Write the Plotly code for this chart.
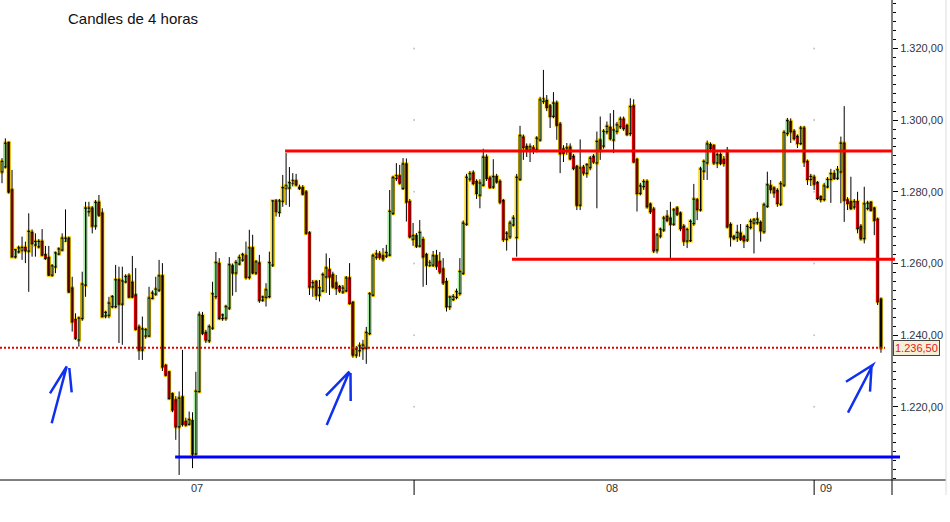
import plotly.graph_objects as go

# ---------------- data ----------------
title_text = "Candles de 4 horas"

opens = [
    1285.6, 1287.0, 1293.7, 1280.5, 1261.9, 1263.3, 1263.8, 1264.4, 1263.5, 1268.6,
    1265.2, 1264.7, 1266.1, 1262.4, 1261.6, 1256.8, 1259.1, 1262.7, 1263.8, 1266.4,
    1267.0, 1253.1, 1244.3, 1238.7, 1244.7, 1254.0, 1274.5, 1275.4, 1270.5, 1277.0,
    1274.0, 1245.4, 1245.6, 1248.0, 1248.0, 1255.4, 1248.7, 1254.9, 1256.5, 1254.7,
    1251.2, 1242.2, 1235.9, 1239.8, 1239.8, 1250.3, 1251.5, 1252.6, 1256.5, 1231.5,
    1229.7, 1223.6, 1221.9, 1214.5, 1222.7, 1215.9, 1215.2, 1216.1, 1206.9, 1224.3,
    1245.4, 1240.7, 1238.5, 1242.0, 1250.8, 1259.9, 1244.7, 1244.8, 1247.6, 1259.3,
    1257.4, 1259.9, 1261.0, 1262.1, 1256.2, 1264.3, 1257.4, 1260.1, 1249.8, 1250.6,
    1250.8, 1259.6, 1277.4, 1274.3, 1277.4, 1281.1, 1281.1, 1282.5, 1283.0, 1281.2,
    1281.1, 1279.9, 1268.5, 1253.5, 1254.9, 1251.2, 1252.4, 1256.3, 1258.2, 1256.8,
    1254.5, 1253.5, 1252.1, 1252.4, 1255.9, 1249.1, 1234.5, 1235.7, 1236.3, 1236.4,
    1240.5, 1251.2, 1261.8, 1262.6, 1262.1, 1262.1, 1262.4, 1274.0, 1283.8, 1284.4,
    1281.0, 1287.7, 1277.2, 1266.8, 1267.7, 1264.9, 1266.6, 1262.4, 1259.6, 1259.6,
    1262.1, 1260.5, 1258.4, 1254.9, 1248.0, 1250.0, 1250.6, 1251.7, 1257.3, 1271.0,
    1283.6, 1285.2, 1282.8, 1279.1, 1281.9, 1289.6, 1283.8, 1281.4, 1284.2, 1282.8,
    1277.5, 1266.8, 1267.5, 1270.8, 1267.3, 1283.5, 1295.2, 1292.6, 1291.7, 1292.2,
    1291.9, 1294.5, 1305.3, 1305.4, 1303.9, 1301.1, 1304.7, 1298.8, 1291.9, 1291.5,
    1292.4, 1289.8, 1287.0, 1276.3, 1286.8, 1285.2, 1286.8, 1289.8, 1288.1, 1294.4,
    1292.8, 1296.8, 1297.9, 1294.5, 1296.9, 1298.2, 1300.2, 1298.4, 1296.3, 1303.9,
    1288.9, 1279.6, 1281.5, 1282.8, 1276.5, 1275.1, 1263.8, 1267.7, 1269.4, 1273.1,
    1272.6, 1271.0, 1275.4, 1274.0, 1270.3, 1266.3, 1266.4, 1271.2, 1277.7, 1275.0,
    1285.8, 1288.1, 1293.1, 1292.8, 1288.1, 1290.3, 1289.0, 1291.4, 1270.8, 1267.5,
    1267.3, 1268.4, 1267.5, 1266.6, 1270.1, 1271.3, 1271.4, 1271.4, 1268.9, 1276.0,
    1281.6, 1281.0, 1280.3, 1276.6, 1281.9, 1296.3, 1299.5, 1296.8, 1295.4, 1293.5,
    1297.7, 1288.4, 1283.5, 1284.0, 1282.5, 1278.6, 1277.9, 1281.4, 1283.5, 1285.0,
    1283.8, 1285.6, 1293.5, 1277.7, 1277.2, 1275.8, 1277.2, 1270.3, 1267.0, 1275.4,
    1277.0, 1275.4, 1272.3, 1250.0,
]
highs = [
    1289.4, 1294.9, 1294.0, 1286.1, 1264.0, 1265.0, 1267.5, 1266.1, 1274.0, 1269.5,
    1268.4, 1266.8, 1269.6, 1264.9, 1264.9, 1259.8, 1263.3, 1264.5, 1268.4, 1275.1,
    1267.5, 1256.3, 1246.1, 1245.2, 1257.7, 1277.2, 1277.2, 1276.0, 1277.7, 1279.1,
    1275.4, 1246.8, 1250.7, 1251.2, 1259.6, 1259.1, 1259.1, 1257.0, 1257.3, 1262.1,
    1258.7, 1243.0, 1245.2, 1242.0, 1253.5, 1252.5, 1256.3, 1261.0, 1260.1, 1232.0,
    1230.0, 1224.0, 1223.0, 1224.3, 1235.9, 1217.0, 1218.7, 1218.5, 1229.8, 1246.6,
    1246.5, 1241.5, 1243.0, 1254.9, 1263.2, 1261.5, 1246.0, 1248.5, 1261.8, 1260.0,
    1261.0, 1262.5, 1263.0, 1266.1, 1269.4, 1268.0, 1261.0, 1262.4, 1251.0, 1254.5,
    1263.3, 1277.7, 1278.0, 1278.0, 1284.7, 1290.8, 1286.9, 1285.2, 1285.0, 1282.0,
    1281.9, 1280.5, 1269.0, 1255.4, 1255.4, 1255.4, 1257.5, 1262.8, 1261.5, 1257.7,
    1256.8, 1254.0, 1254.0, 1256.5, 1260.1, 1249.5, 1237.0, 1238.0, 1238.7, 1242.3,
    1252.0, 1262.8, 1263.8, 1263.5, 1264.3, 1265.2, 1280.5, 1284.5, 1288.0, 1287.5,
    1289.4, 1289.3, 1278.0, 1271.3, 1268.5, 1272.1, 1267.5, 1263.0, 1261.0, 1263.5,
    1263.8, 1263.2, 1261.5, 1256.0, 1251.0, 1251.5, 1253.0, 1261.5, 1272.0, 1285.0,
    1285.8, 1286.0, 1283.5, 1283.5, 1292.0, 1290.5, 1284.5, 1289.1, 1285.0, 1283.5,
    1278.0, 1269.0, 1272.0, 1273.5, 1285.0, 1298.4, 1296.0, 1293.5, 1293.5, 1293.0,
    1295.5, 1306.5, 1314.0, 1307.0, 1304.5, 1307.8, 1305.5, 1299.5, 1293.0, 1293.6,
    1293.5, 1290.5, 1287.5, 1294.6, 1287.5, 1288.0, 1290.0, 1290.5, 1296.8, 1301.0,
    1297.5, 1299.6, 1301.9, 1302.8, 1299.5, 1301.0, 1301.0, 1299.0, 1306.1, 1305.8,
    1289.5, 1282.5, 1283.5, 1283.5, 1277.0, 1275.8, 1268.5, 1270.0, 1273.3, 1274.9,
    1277.2, 1275.5, 1276.0, 1274.5, 1271.0, 1270.0, 1272.3, 1282.2, 1278.3, 1287.0,
    1289.0, 1294.3, 1293.8, 1293.3, 1291.0, 1291.0, 1290.0, 1292.5, 1271.5, 1268.0,
    1270.8, 1271.0, 1268.0, 1271.0, 1272.5, 1272.7, 1274.4, 1272.0, 1277.0, 1285.6,
    1283.3, 1281.5, 1281.0, 1283.0, 1297.2, 1300.6, 1300.5, 1297.5, 1296.0, 1298.4,
    1298.4, 1289.0, 1285.0, 1284.8, 1283.0, 1279.0, 1282.5, 1284.1, 1286.4, 1286.1,
    1287.2, 1295.4, 1303.9, 1278.5, 1284.2, 1278.0, 1280.0, 1271.0, 1281.4, 1277.5,
    1277.4, 1275.8, 1272.8, 1250.5,
]
lows = [
    1282.4, 1286.5, 1279.5, 1261.7, 1261.4, 1262.8, 1261.0, 1260.1, 1252.1, 1261.9,
    1261.9, 1264.2, 1262.0, 1261.0, 1256.5, 1256.3, 1257.3, 1262.3, 1263.4, 1266.0,
    1251.8, 1241.0, 1238.7, 1236.8, 1244.0, 1250.7, 1273.1, 1268.4, 1269.4, 1273.0,
    1245.0, 1244.7, 1244.7, 1247.5, 1247.5, 1237.8, 1237.3, 1254.5, 1250.3, 1250.3,
    1241.3, 1233.1, 1233.1, 1239.0, 1239.5, 1250.0, 1251.0, 1252.0, 1230.0, 1228.5,
    1222.0, 1218.5, 1210.8, 1201.0, 1214.5, 1214.5, 1214.8, 1202.9, 1206.5, 1224.0,
    1240.0, 1237.8, 1237.8, 1241.5, 1250.0, 1244.3, 1244.0, 1244.0, 1247.0, 1251.0,
    1252.0, 1259.5, 1260.5, 1255.5, 1255.5, 1257.0, 1256.8, 1249.0, 1249.3, 1248.0,
    1250.3, 1259.0, 1273.1, 1273.0, 1275.8, 1276.3, 1275.8, 1281.5, 1281.5, 1280.5,
    1279.0, 1268.0, 1251.2, 1250.7, 1249.8, 1249.4, 1252.0, 1251.8, 1251.2, 1253.0,
    1251.2, 1251.8, 1251.5, 1252.0, 1248.5, 1233.7, 1233.6, 1234.0, 1233.1, 1232.0,
    1240.0, 1250.8, 1261.0, 1261.0, 1260.5, 1261.5, 1262.0, 1273.5, 1283.0, 1282.0,
    1280.5, 1271.7, 1267.0, 1264.9, 1264.3, 1264.5, 1253.5, 1254.0, 1259.0, 1259.0,
    1258.2, 1257.0, 1254.0, 1246.6, 1247.0, 1249.5, 1250.0, 1251.0, 1256.8, 1270.5,
    1282.8, 1281.8, 1278.0, 1275.4, 1281.5, 1283.0, 1280.8, 1280.8, 1282.3, 1276.5,
    1266.0, 1263.6, 1266.8, 1270.3, 1261.9, 1283.0, 1288.9, 1289.7, 1288.3, 1290.5,
    1291.0, 1294.0, 1304.5, 1302.5, 1297.8, 1300.5, 1294.5, 1285.2, 1288.3, 1290.3,
    1288.8, 1286.0, 1274.9, 1274.9, 1284.5, 1283.9, 1286.0, 1287.8, 1275.4, 1288.9,
    1292.0, 1296.0, 1294.3, 1290.8, 1296.0, 1297.5, 1297.0, 1295.5, 1295.5, 1288.0,
    1274.5, 1279.0, 1280.5, 1275.3, 1273.8, 1262.9, 1262.8, 1267.0, 1268.8, 1271.5,
    1261.5, 1270.5, 1273.2, 1269.0, 1264.9, 1264.3, 1266.0, 1270.5, 1272.1, 1274.5,
    1283.3, 1283.3, 1291.0, 1287.5, 1286.6, 1287.4, 1287.0, 1269.8, 1264.7, 1266.5,
    1266.0, 1266.3, 1264.3, 1266.0, 1269.5, 1262.8, 1270.8, 1266.1, 1268.3, 1275.5,
    1279.5, 1278.3, 1275.8, 1276.0, 1281.3, 1295.5, 1293.6, 1294.3, 1292.2, 1293.0,
    1286.9, 1281.9, 1281.6, 1280.5, 1277.7, 1277.0, 1277.3, 1281.0, 1276.9, 1283.3,
    1283.3, 1276.8, 1271.6, 1274.9, 1274.9, 1275.0, 1268.4, 1266.4, 1265.6, 1274.8,
    1274.5, 1267.9, 1248.4, 1235.1,
]
closes = [
    1288.4, 1293.5, 1280.0, 1261.9, 1263.8, 1264.3, 1264.4, 1263.6, 1268.9, 1265.6,
    1266.1, 1266.1, 1262.4, 1261.5, 1256.8, 1259.3, 1262.9, 1264.0, 1267.0, 1267.0,
    1252.1, 1243.8, 1239.2, 1244.7, 1254.2, 1275.4, 1275.4, 1270.5, 1277.0, 1273.5,
    1245.2, 1246.3, 1248.9, 1250.7, 1255.4, 1248.7, 1255.1, 1256.3, 1250.7, 1250.7,
    1241.7, 1235.9, 1241.7, 1241.5, 1250.3, 1251.7, 1252.8, 1256.5, 1231.2, 1228.9,
    1222.4, 1219.2, 1214.5, 1222.4, 1215.2, 1215.0, 1216.4, 1206.9, 1224.3, 1245.6,
    1240.6, 1238.7, 1242.3, 1251.5, 1260.2, 1244.7, 1245.6, 1247.9, 1259.6, 1257.4,
    1260.2, 1261.6, 1262.4, 1256.2, 1264.3, 1257.4, 1260.4, 1249.8, 1250.6, 1252.6,
    1260.2, 1277.4, 1274.6, 1277.4, 1281.1, 1281.6, 1282.5, 1283.0, 1282.0, 1281.0,
    1279.4, 1268.5, 1253.5, 1254.6, 1251.2, 1253.2, 1256.8, 1258.7, 1256.3, 1253.5,
    1253.1, 1252.4, 1253.1, 1255.9, 1248.9, 1234.5, 1236.1, 1237.0, 1237.2, 1240.7,
    1251.5, 1262.1, 1262.6, 1261.8, 1261.3, 1263.0, 1274.5, 1283.9, 1284.4, 1282.5,
    1287.7, 1277.2, 1267.5, 1267.7, 1264.9, 1268.6, 1261.9, 1259.6, 1260.1, 1262.1,
    1259.3, 1257.7, 1254.7, 1248.0, 1250.6, 1250.7, 1252.1, 1257.7, 1271.2, 1284.0,
    1285.0, 1282.4, 1279.6, 1282.4, 1289.6, 1283.8, 1281.3, 1284.2, 1282.8, 1277.2,
    1266.8, 1268.4, 1271.2, 1272.6, 1284.0, 1295.6, 1292.4, 1291.7, 1292.5, 1291.7,
    1294.9, 1305.6, 1305.8, 1303.6, 1301.1, 1304.7, 1298.6, 1290.7, 1290.8, 1292.2,
    1289.3, 1286.6, 1276.3, 1286.6, 1285.3, 1287.5, 1289.3, 1288.4, 1294.0, 1291.5,
    1296.8, 1298.2, 1294.9, 1297.2, 1298.6, 1300.2, 1297.7, 1296.1, 1303.7, 1288.4,
    1279.6, 1281.6, 1282.8, 1275.9, 1274.5, 1263.6, 1267.9, 1269.5, 1272.6, 1272.1,
    1271.0, 1274.9, 1273.8, 1269.8, 1266.3, 1269.4, 1271.7, 1277.9, 1275.1, 1286.3,
    1288.4, 1293.3, 1292.1, 1288.1, 1290.3, 1288.0, 1288.0, 1270.3, 1267.5, 1267.0,
    1268.6, 1266.8, 1266.4, 1270.3, 1271.7, 1272.1, 1272.3, 1269.2, 1276.3, 1281.9,
    1280.7, 1279.8, 1276.8, 1282.2, 1296.5, 1299.8, 1296.8, 1294.9, 1293.6, 1297.7,
    1288.4, 1283.5, 1284.2, 1282.2, 1278.2, 1277.9, 1281.6, 1283.4, 1285.0, 1283.8,
    1286.1, 1293.5, 1277.7, 1276.8, 1275.4, 1277.2, 1269.8, 1267.0, 1276.6, 1276.8,
    1274.9, 1272.1, 1249.4, 1236.5,
]

month_labels = ["07", "08", "09"]
month_label_pos = [58.3, 182.5, 244.2]   # candle-index positions of the labels
month_bounds = [123.3, 243.0]            # candle-index positions of month changes

resistance_level, resistance_start = 1291.4, 84.7
support_level, support_start = 1261.2, 152.6
floor_level, floor_start = 1206.0, 51.8
last_price = 1236.5
last_price_text = "1.236,50"
y_ticks = [1220, 1240, 1260, 1280, 1300, 1320]

# ---------------- styling / geometry ----------------
X_RANGE = [-0.6, 266.3]
Y_RANGE = [1199.6, 1333.5]
PLOT_W, PLOT_H = 892, 480
FONT = "Liberation Sans, Arial, sans-serif"
GOLD = "#ffd200"
RED = "#f00000"
GREEN = "#a8eca0"
BLUE = "#1030f0"


def xp(i):
    return (i - X_RANGE[0]) / (X_RANGE[1] - X_RANGE[0])


def yp(p):
    return (p - Y_RANGE[0]) / (Y_RANGE[1] - Y_RANGE[0])


def px(x):
    return x / PLOT_W


def py(y):
    return 1 - y / PLOT_H


n = len(closes)
idx = list(range(n))

wick_x, wick_y = [], []
for i in idx:
    wick_x += [i, i, None]
    wick_y += [lows[i], highs[i], None]

body_base = [min(o, c) for o, c in zip(opens, closes)]
body_len = [abs(c - o) for o, c in zip(opens, closes)]
fills = [GREEN if c >= o else RED for o, c in zip(opens, closes)]
fills[-1] = "#111111"   # current (last) candle is drawn dark


def layer(pad_price, width, colors):
    return go.Bar(x=idx, y=[b + 2 * pad_price for b in body_len],
                  base=[b - pad_price for b in body_base], width=width,
                  marker=dict(color=colors, line=dict(width=0)), hoverinfo="skip")


fig = go.Figure()
fig.add_trace(go.Scatter(x=wick_x, y=wick_y, mode="lines",
                         line=dict(color="black", width=1), hoverinfo="skip"))
fig.add_trace(layer(0.55, 1.3, GOLD))          # yellow outer frame
fig.add_trace(layer(0.22, 0.85, "#1a1a1a"))    # thin dark inner frame
fig.add_trace(go.Bar(x=idx, y=[max(b - 0.24, 0) for b in body_len],
                     base=[b + 0.12 for b in body_base], width=0.58,
                     marker=dict(color=fills, line=dict(width=0)), hoverinfo="skip"))
# faint grid dots at month changes
fig.add_trace(go.Scatter(x=[b for b in month_bounds for _ in y_ticks],
                         y=[t for _ in month_bounds for t in y_ticks],
                         mode="markers", marker=dict(size=2, color="#c4c4c4"),
                         hoverinfo="skip"))

shapes = []
shapes.append(dict(type="line", xref="paper", yref="paper", x0=1, x1=1, y0=1, y1=py(495),
                   line=dict(color="black", width=1)))
shapes.append(dict(type="line", xref="paper", yref="paper", x0=0, x1=px(946), y0=0, y1=0,
                   line=dict(color="black", width=1)))
for b in month_bounds:
    shapes.append(dict(type="line", xref="paper", yref="paper", x0=xp(b), x1=xp(b),
                       y0=0, y1=py(495), line=dict(color="black", width=1)))
shapes.append(dict(type="line", xref="paper", yref="paper", x0=px(946), x1=px(946),
                   y0=1, y1=py(495), line=dict(color="#dcdcdc", width=1)))
shapes.append(dict(type="line", xref="paper", yref="paper", x0=xp(resistance_start), x1=px(892),
                   y0=yp(resistance_level), y1=yp(resistance_level), line=dict(color="#ff0000", width=3)))
shapes.append(dict(type="line", xref="paper", yref="paper", x0=xp(support_start), x1=px(895),
                   y0=yp(support_level), y1=yp(support_level), line=dict(color="#ff0000", width=3)))
shapes.append(dict(type="line", xref="paper", yref="paper", x0=xp(floor_start), x1=px(900),
                   y0=yp(floor_level), y1=yp(floor_level), line=dict(color="#0000ff", width=3)))
shapes.append(dict(type="line", xref="paper", yref="paper", x0=0, x1=px(885),
                   y0=yp(last_price), y1=yp(last_price),
                   line=dict(color="#e00000", width=2, dash="2px,2px")))

# hand-drawn arrows: (tail, tip, left barb end, right barb start, right barb end) in pixels
arrows = [
    [(51.7, 423.3), (66.7, 366.5), (50.0, 393.3), (69.3, 368.0), (71.7, 392.3)],
    [(326.7, 425.0), (349.3, 371.7), (326.0, 395.7), (350.5, 373.0), (350.7, 401.0)],
    [(848.0, 412.7), (872.7, 365.0), (846.0, 381.7), (871.5, 367.0), (870.0, 391.7)],
]
for tail, tip, left, rs, re_ in arrows:
    def P(pt):
        return f"{px(pt[0]):.5f},{py(pt[1]):.5f}"
    path = f"M{P(tail)} L{P(tip)} L{P(left)} M{P(rs)} L{P(re_)}"
    shapes.append(dict(type="path", xref="paper", yref="paper", path=path,
                       line=dict(color=BLUE, width=2.5)))

annotations = [
    dict(text=title_text, xref="paper", yref="paper", x=px(66), y=py(19),
         xanchor="left", yanchor="middle", showarrow=False,
         font=dict(family=FONT, size=15, color="#111111")),
    dict(text=last_price_text, xref="paper", yref="paper", x=px(893), y=yp(last_price),
         xanchor="left", yanchor="middle", showarrow=False,
         font=dict(family=FONT, size=11, color="#e8141e"),
         bgcolor="#f6f1d6", bordercolor="#444444", borderwidth=1, borderpad=1),
]
for lab, pos in zip(month_labels, month_label_pos):
    annotations.append(dict(text=lab, xref="paper", yref="paper", x=xp(pos), y=py(488),
                            xanchor="left" if lab == month_labels[-1] else "center",
                            yanchor="middle", showarrow=False,
                            font=dict(family=FONT, size=11, color="#333333")))

fig.update_layout(
    width=950, height=522,
    margin=dict(l=0, r=58, t=0, b=42, pad=0),
    paper_bgcolor="white", plot_bgcolor="white",
    showlegend=False, barmode="overlay",
    separators=",.",
    shapes=shapes, annotations=annotations,
    xaxis=dict(range=X_RANGE, showticklabels=False, showgrid=False, zeroline=False,
               showline=False, ticks="", fixedrange=True),
    yaxis=dict(range=Y_RANGE, side="right", tickvals=y_ticks, tickformat=",.2f",
               showgrid=False, zeroline=False, showline=False,
               ticks="outside", ticklen=5, tickcolor="black", tickwidth=1,
               tickfont=dict(family=FONT, size=11, color="#333344"),
               minor=dict(dtick=2.5, tick0=1200, ticks="outside", ticklen=3,
                          tickcolor="black", showgrid=False),
               fixedrange=True),
    font=dict(family=FONT),
)

fig.write_html("out.html", config={"displayModeBar": False},
               post_script="document.body.style.margin='0px';")
